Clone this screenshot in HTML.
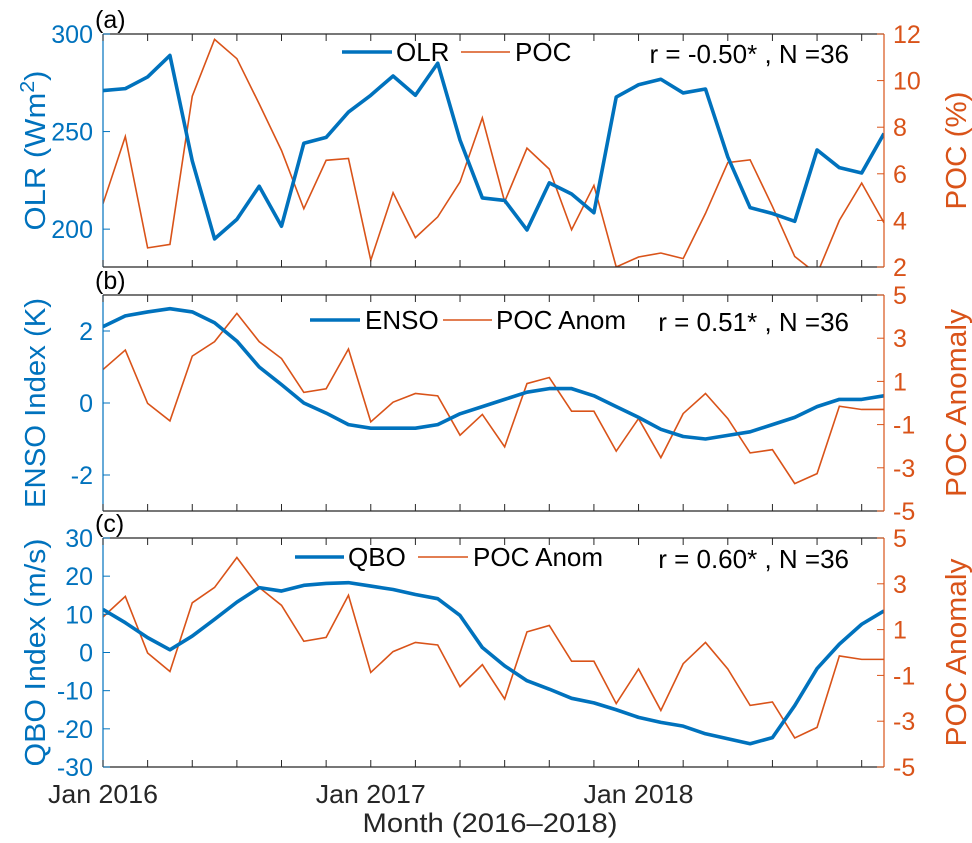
<!DOCTYPE html>
<html><head><meta charset="utf-8"><style>
html,body{margin:0;padding:0;background:#fff;}
svg{display:block;font-family:"Liberation Sans",Arial,sans-serif;}
</style></head><body>
<svg id="fig" width="972" height="843" viewBox="0 0 972 843" xmlns="http://www.w3.org/2000/svg"></svg>
<script>
const months = Array.from({length:36},(_,i)=>i);
const olrValues = [271,272,278,289,235,195,205,222,201.5,244,247,260,268.6,278.5,268.6,285,245.6,216,214.7,199.6,223.7,218,208.4,267.7,274,276.8,269.8,271.8,237,211,208,204,240.6,231.5,228.8,249];
const pocValues = [4.72,7.6,2.82,2.97,9.33,11.77,10.94,9.0,7.0,4.5,6.58,6.66,2.29,5.19,3.26,4.15,5.65,8.4,4.8,7.1,6.2,3.6,5.5,2.0,2.43,2.6,2.36,4.3,6.48,6.6,4.6,2.45,1.7,4.0,5.6,3.9];
const ensoValues = [2.12,2.42,2.53,2.62,2.53,2.23,1.72,1.0,0.51,0,-0.28,-0.6,-0.7,-0.7,-0.7,-0.6,-0.3,-0.1,0.1,0.3,0.4,0.4,0.2,-0.1,-0.4,-0.73,-0.93,-1.0,-0.9,-0.8,-0.6,-0.4,-0.1,0.1,0.1,0.2];
const pocAnomValues = [1.55,2.45,-0.02,-0.83,2.17,2.84,4.15,2.84,2.06,0.49,0.66,2.5,-0.87,0.04,0.44,0.33,-1.49,-0.53,-2.03,0.9,1.18,-0.38,-0.38,-2.23,-0.72,-2.53,-0.49,0.44,-0.72,-2.31,-2.16,-3.73,-3.27,-0.15,-0.3,-0.3];
const qboValues = [11.3,7.8,3.9,0.7,4.3,8.7,13.2,17,16.1,17.6,18.1,18.3,17.4,16.5,15.2,14.1,9.7,1.3,-3.5,-7.4,-9.6,-12,-13.2,-15,-17,-18.3,-19.3,-21.3,-22.6,-23.9,-22.3,-13.9,-4.2,2.2,7.4,10.9];
const olrTicks = [200,250,300];
const pocTicks = [2,4,6,8,10,12];
const ensoTicks = [-2,0,2];
const anomTicks = [-5,-3,-1,1,3,5];
const qboTicks = [-30,-20,-10,0,10,20,30];
const xTickLabels = [{i:0,t:"Jan 2016"},{i:12,t:"Jan 2017"},{i:24,t:"Jan 2018"}];

const BLUE="#0072BD", ORANGE="#D95319", DARK="#262626";
const svg=document.getElementById('fig');
const NS="http://www.w3.org/2000/svg";
function mk(tag,attrs,parent){const e=document.createElementNS(NS,tag);for(const k in attrs)e.setAttribute(k,attrs[k]);(parent||svg).appendChild(e);return e;}
const X0=103,X1=884;
const xs=i=>X0+(X1-X0)*i/35;

const panels=[
 {id:'a',top:34,bot:267,lmin:180.6,lmax:300,rmin:2,rmax:12,left:olrValues,right:pocValues,lt:olrTicks,rt:pocTicks,
  ltitle:'OLR (Wm',lsup:'2',rtitle:'POC (%)',leg1:'OLR',leg2:'POC',r:'r = -0.50* , N =36',
  l1:[342,392],t1:396,l2:[461,510],t2:515,legY:52,lw:160,rw:118},
 {id:'b',top:295,bot:511,lmin:-3,lmax:3,rmin:-5,rmax:5,left:ensoValues,right:pocAnomValues,lt:ensoTicks,rt:anomTicks,
  ltitle:'ENSO Index (K)',rtitle:'POC Anomaly',leg1:'ENSO',leg2:'POC Anom',r:'r = 0.51* , N =36',
  l1:[310,360],t1:365,l2:[443,492],t2:496,legY:320,lw:210,rw:188},
 {id:'c',top:538,bot:767,lmin:-30,lmax:30,rmin:-5,rmax:5,left:qboValues,right:pocAnomValues,lt:qboTicks,rt:anomTicks,
  ltitle:'QBO Index (m/s)',rtitle:'POC Anomaly',leg1:'QBO',leg2:'POC Anom',r:'r = 0.60* , N =36',
  l1:[295,344],t1:348,l2:[418,468],t2:473,legY:557,lw:228,rw:188}
];

panels.forEach(p=>{
  const g=mk('g',{});
  
  
  const yl=v=>p.bot-(v-p.lmin)/(p.lmax-p.lmin)*(p.bot-p.top);
  const yr=v=>p.bot-(v-p.rmin)/(p.rmax-p.rmin)*(p.bot-p.top);
  const clipId='clip'+p.id;
  const cp=mk('clipPath',{id:clipId},g);
  mk('rect',{x:X0,y:p.top,width:X1-X0,height:p.bot-p.top},cp);
  const rl=mk('polyline',{points:months.map(i=>xs(i)+','+yr(p.right[i])).join(' '),fill:'none',stroke:ORANGE,'stroke-width':1.6,'clip-path':'url(#'+clipId+')'},g);
  
  
  const ll=mk('polyline',{points:months.map(i=>xs(i)+','+yl(p.left[i])).join(' '),fill:'none',stroke:BLUE,'stroke-width':3.6,'stroke-linejoin':'round','clip-path':'url(#'+clipId+')'},g);
  
  
  mk('line',{x1:X0,y1:p.top,x2:X1,y2:p.top,stroke:DARK,'stroke-width':1.2},g);
  mk('line',{x1:X0,y1:p.bot,x2:X1,y2:p.bot,stroke:DARK,'stroke-width':1.2},g);
  mk('line',{x1:X0,y1:p.top,x2:X0,y2:p.bot,stroke:BLUE,'stroke-width':1.2},g);
  mk('line',{x1:X1,y1:p.top,x2:X1,y2:p.bot,stroke:ORANGE,'stroke-width':1.2},g);
  for(let i=0;i<36;i+=2){
    mk('line',{x1:xs(i),y1:p.bot,x2:xs(i),y2:p.bot-7,stroke:DARK,'stroke-width':1},g);
    mk('line',{x1:xs(i),y1:p.top,x2:xs(i),y2:p.top+7,stroke:DARK,'stroke-width':1},g);
  }
  p.lt.forEach(v=>{
    const y=yl(v);
    mk('line',{x1:X0,y1:y,x2:X0+7,y2:y,stroke:BLUE,'stroke-width':1},g);
    const t=mk('text',{x:93,y:y+9,'text-anchor':'end','font-size':25,fill:BLUE},g);t.textContent=v;
    
    
  });
  p.rt.forEach(v=>{
    const y=yr(v);
    mk('line',{x1:X1,y1:y,x2:X1-7,y2:y,stroke:ORANGE,'stroke-width':1},g);
    const t=mk('text',{x:893,y:y+9,'text-anchor':'start','font-size':25,fill:ORANGE},g);t.textContent=v;
    
    
  });
  const mid=(p.top+p.bot)/2;
  const lt=mk('text',{x:0,y:0,'text-anchor':'middle','font-size':29,fill:BLUE,textLength:p.lw,lengthAdjust:'spacingAndGlyphs',transform:`translate(45,${mid}) rotate(-90)`},g);
  lt.textContent=p.ltitle;
  if(p.lsup){const s=mk('tspan',{dy:-11,'font-size':20},lt);s.textContent=p.lsup;const s2=mk('tspan',{dy:11},lt);s2.textContent=')';}
  
  
  const rt=mk('text',{x:0,y:0,'text-anchor':'middle','font-size':29,fill:ORANGE,textLength:p.rw,lengthAdjust:'spacingAndGlyphs',transform:`translate(966,${mid}) rotate(-90)`},g);
  rt.textContent=p.rtitle;
  
  
  const pl=mk('text',{x:95,y:p.top-6,'font-size':25,fill:'#000'},g);pl.textContent='('+p.id+')';
  
  
  const lg=mk('g',{},g);
  
  
  mk('line',{x1:p.l1[0],y1:p.legY,x2:p.l1[1],y2:p.legY,stroke:BLUE,'stroke-width':3.6},lg);
  const t1=mk('text',{x:p.t1,y:p.legY+9,'font-size':26,fill:'#000'},lg);t1.textContent=p.leg1;
  mk('line',{x1:p.l2[0],y1:p.legY,x2:p.l2[1],y2:p.legY,stroke:ORANGE,'stroke-width':1.6},lg);
  const t2=mk('text',{x:p.t2,y:p.legY+9,'font-size':26,fill:'#000'},lg);t2.textContent=p.leg2;
  const rr=mk('text',{x:849,y:p.legY+11,'text-anchor':'end','font-size':26,fill:'#000'},g);rr.textContent=p.r;
  
  
});
xTickLabels.forEach(d=>{
  const t=mk('text',{x:xs(d.i),y:803,'text-anchor':'middle','font-size':26,fill:DARK,textLength:110,lengthAdjust:'spacingAndGlyphs'});
  t.textContent=d.t;
  
  
});
const xt=mk('text',{x:490,y:832,'text-anchor':'middle','font-size':27,fill:DARK,textLength:255,lengthAdjust:'spacingAndGlyphs'});
xt.textContent='Month (2016\u20132018)';


</script>
</body></html>
